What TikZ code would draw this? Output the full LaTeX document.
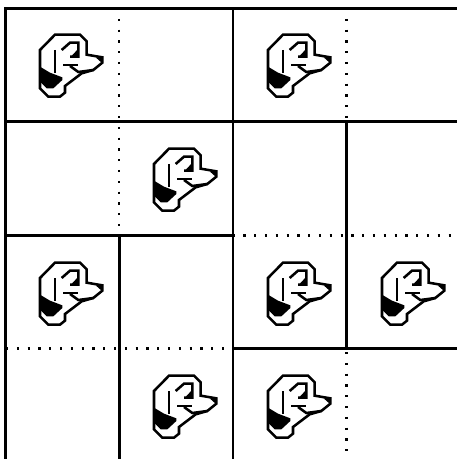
\documentclass[tikz,border=0pt]{standalone}
\tikzset{
  wall/.style={line width=1.8pt, black},
  fold/.style={line width=1.7pt, black, dash pattern=on 1.7pt off 6.4pt},
  doglin/.style={line width=1.9pt, black, line join=miter},
  dogicon/.pic={
    \begin{scope}[x=0.25pt,y=-0.25pt]
    % head outline
    \draw[doglin] (90,44)--(165,44)--(185,64)--(185,104)--(232,112)--(232,128)--(205,150)--(170,160)--(120,198)--(120,218)--(105,230)--(70,230)--(45,205)--(45,90)--cycle;
    % collar
    \fill[black] (45,140)--(75,158)--(112,172)--(112,180)--(85,205)--(65,205)--(45,185)--cycle;
    % nose, eye, mouth
    \fill[black] (212,112)--(232,112)--(232,130)--cycle;
    \draw[doglin] (90,90)--(90,158);
    \draw[doglin] (110,90)--(135,68)--(160,68)--(160,110)--(135,110);
    \fill[black] (136,112)--(160,86)--(160,112)--cycle;
    \draw[doglin] (115,135)--(160,135);
    \draw[doglin] (135,138)--(160,156)--(205,150);
    \end{scope}
  }
}
\begin{document}
\begin{tikzpicture}[x=0.75pt,y=-0.75pt]
\useasboundingbox (0,0) rectangle (457,459);
% solid walls
\draw[wall] (5.5,459)--(5.5,8.5)--(457,8.5);
\draw[wall] (5.5,121.5)--(457,121.5);
\draw[wall] (5.5,235.5)--(232.7,235.5);
\draw[wall] (232.7,8.5)--(232.7,459);
\draw[wall] (119.3,235.5)--(119.3,459);
\draw[wall] (346.5,121.5)--(346.5,348.5);
\draw[wall] (232.7,348.5)--(457,348.5);
% dotted creases
\draw[fold] (119.3,8)--(119.3,236);
\draw[fold] (346.5,8)--(346.5,122);
\draw[fold] (232.5,235.5)--(457,235.5);
\draw[fold] (6,348.5)--(233,348.5);
\draw[fold] (346.5,352)--(346.5,459);
\foreach \px/\py in {25/20,253/20,139/134,25/248,253/248,367/248,139/361,253/361}
  \pic at (\px,\py) {dogicon};
\end{tikzpicture}
\end{document}
